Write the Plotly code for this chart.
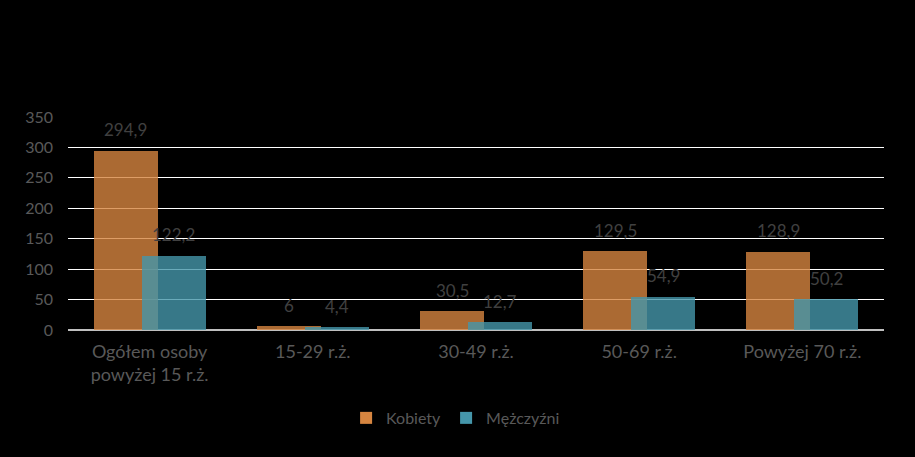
import plotly.graph_objects as go

categories = ["Ogółem osoby<br>powyżej 15 r.ż.", "15-29 r.ż.", "30-49 r.ż.", "50-69 r.ż.", "Powyżej 70 r.ż."]
kobiety = [294.9, 6, 30.5, 129.5, 128.9]
mezczyzni = [122.2, 4.4, 12.7, 54.9, 50.2]
y_ticks = [0, 50, 100, 150, 200, 250, 300, 350]


def fmt(v):
    return f"{v:g}".replace(".", ",")


FONT = "Lato, 'Open Sans', sans-serif"
GRAY = "#595959"
LABEL = "#404040"
W = 0.392

fig = go.Figure()
fig.add_trace(go.Bar(
    name="Kobiety", x=categories, y=kobiety,
    width=W, offset=-0.343,
    marker=dict(color="rgb(214,133,64)", opacity=0.8, line=dict(width=0)),
))
fig.add_trace(go.Bar(
    name="Mężczyźni", x=categories, y=mezczyzni,
    width=W, offset=-0.049,
    marker=dict(color="rgb(69,150,170)", opacity=0.8, line=dict(width=0)),
))

annotations = []
for series, shift in ((kobiety, -24), (mezczyzni, 24)):
    for c, v in zip(categories, series):
        annotations.append(dict(
            x=c, y=v, xref="x", yref="y", text=fmt(v), showarrow=False,
            xshift=shift, yshift=21, yanchor="middle", xanchor="center",
            font=dict(color=LABEL, size=17, family=FONT),
        ))

fig.update_layout(
    width=915, height=457,
    paper_bgcolor="black", plot_bgcolor="black",
    barmode="overlay",
    margin=dict(l=68, r=31, t=117, b=127),
    font=dict(family=FONT, color=GRAY, size=16),
    showlegend=True,
    annotations=annotations,
    legend=dict(orientation="h", x=0.475, xanchor="center", y=-0.413, yanchor="middle",
                font=dict(size=16, color=GRAY), bgcolor="rgba(0,0,0,0)",
                itemwidth=30, traceorder="normal"),
    xaxis=dict(showgrid=False, showline=False, zeroline=False, ticks="",
               tickfont=dict(size=18, color=GRAY), ticklabelstandoff=9),
    yaxis=dict(range=[0, 350], tickvals=y_ticks, showgrid=True, gridcolor="white",
               gridwidth=1, zeroline=True, zerolinecolor="#bfbfbf", zerolinewidth=2,
               showline=False, ticks="", tickfont=dict(size=16, color=GRAY),
               ticklabelstandoff=14),
    bargap=0, bargroupgap=0,
)

fig.write_html("out.html")
